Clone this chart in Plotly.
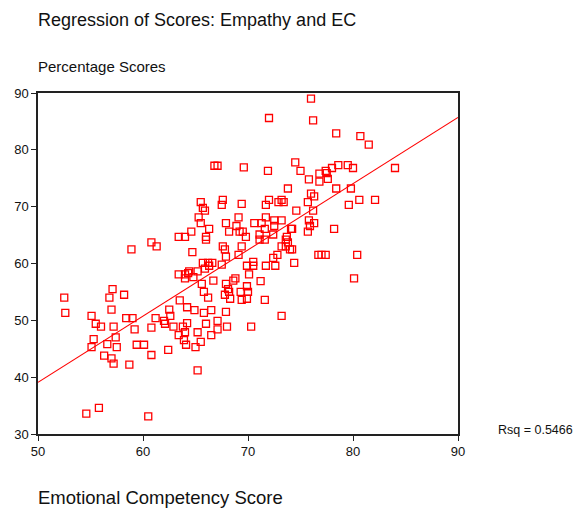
import plotly.graph_objects as go

# Emotional Competency score (x) and empathy percentage score (y) for each respondent
ec_score = [
    76.0, 72.0, 76.2, 78.4, 80.7, 81.5, 74.5, 66.8, 67.1, 69.6,
    71.9, 75.0, 75.8, 76.8, 77.4, 77.5, 78.0, 78.6, 79.5, 80.0,
    84.0, 76.8, 77.6, 73.8, 78.4, 79.8, 76.0, 76.3, 69.4, 71.7,
    72.0, 72.9, 73.2, 73.4, 75.7, 79.6, 80.6, 82.1, 74.6, 76.2,
    65.5, 67.6, 67.5, 65.7, 65.9, 65.3, 65.5, 67.9, 69.1, 70.6,
    71.3, 71.7, 72.5, 73.2, 72.5, 75.8, 76.3, 75.9, 66.3, 64.6,
    68.2, 68.9, 69.2, 69.5, 69.8, 63.4, 64.0, 66.0, 66.0, 60.8,
    61.3, 58.9, 67.6, 67.8, 69.4, 64.7, 67.9, 69.1, 71.6, 71.1,
    72.4, 71.1, 71.6, 74.1, 74.2, 75.7, 78.2, 73.7, 73.6, 73.8,
    73.2, 73.6, 74.0, 74.2, 72.4, 72.8, 76.7, 77.0, 77.4, 80.4,
    70.5, 70.5, 69.9, 71.7, 72.6, 74.4, 70.1, 71.2, 80.1, 69.9,
    69.3, 70.0, 69.4, 69.9, 71.6, 73.2, 70.3, 65.7, 66.2, 66.6,
    67.5, 66.3, 65.9, 63.4, 64.0, 64.3, 64.0, 64.4, 65.2, 64.8,
    66.7, 65.6, 67.9, 68.6, 68.8, 68.1, 68.2, 68.3, 67.8, 65.8,
    66.2, 63.5, 64.2, 64.9, 65.8, 66.5, 67.9, 62.5, 62.6, 61.2,
    62.0, 62.1, 62.9, 63.8, 64.2, 66.0, 67.1, 67.1, 68.0, 63.4,
    64.0, 65.2, 66.5, 63.9, 64.1, 65.0, 65.5, 62.4, 65.2, 60.8,
    60.1, 59.4, 59.2, 58.4, 59.0, 60.8, 58.2, 57.1, 56.8, 57.0,
    55.1, 55.5, 56.0, 57.2, 57.4, 55.3, 55.1, 56.6, 57.5, 56.3,
    57.0, 57.2, 58.7, 52.5, 52.6, 54.6, 55.8, 60.5,
]
empathy_pct = [
    89.0, 85.6, 85.2, 82.9, 82.4, 80.9, 77.8, 77.2, 77.2, 76.9,
    76.3, 76.3, 74.8, 75.8, 76.3, 75.9, 76.8, 77.3, 77.3, 76.8,
    76.8, 74.4, 74.9, 73.2, 73.2, 73.2, 72.3, 71.8, 70.5, 70.3,
    71.2, 70.8, 71.2, 70.8, 70.8, 70.3, 71.2, 71.2, 69.3, 69.3,
    70.8, 71.2, 70.3, 69.8, 69.3, 68.1, 67.1, 67.1, 68.1, 67.1,
    67.1, 68.1, 67.6, 67.6, 66.6, 67.6, 67.1, 66.6, 66.1, 65.6,
    65.6, 66.6, 65.6, 65.6, 64.7, 64.7, 64.7, 64.7, 64.2, 63.7,
    63.0, 62.5, 63.0, 62.5, 63.0, 62.0, 61.2, 61.5, 66.1, 65.1,
    65.1, 64.2, 64.2, 66.1, 66.1, 65.6, 66.1, 64.7, 64.2, 63.7,
    63.0, 63.0, 62.5, 62.5, 61.0, 61.5, 61.5, 61.5, 61.5, 61.5,
    60.3, 59.6, 59.6, 59.6, 59.6, 60.1, 58.1, 56.9, 57.4, 56.0,
    55.0, 55.0, 53.6, 53.8, 53.6, 50.8, 48.9, 60.1, 60.1, 60.1,
    59.8, 59.6, 59.1, 58.1, 58.1, 58.3, 57.4, 58.6, 58.6, 57.6,
    57.0, 56.4, 56.4, 57.0, 57.4, 55.5, 55.0, 53.8, 54.5, 55.0,
    54.0, 53.5, 52.3, 51.8, 51.3, 51.8, 51.5, 51.9, 50.8, 50.4,
    49.9, 49.4, 48.9, 48.9, 49.5, 49.4, 49.9, 48.4, 48.9, 47.4,
    47.9, 47.9, 47.4, 46.5, 45.7, 45.3, 46.2, 44.8, 41.2, 43.9,
    45.7, 45.7, 48.4, 50.4, 50.4, 48.7, 54.5, 55.5, 54.0, 51.9,
    50.8, 49.4, 48.9, 48.9, 47.0, 46.7, 45.3, 45.8, 45.3, 43.8,
    43.3, 42.4, 42.2, 54.0, 51.3, 33.6, 34.6, 33.1,
]

# Fitted linear regression of empathy on EC score
fit_intercept = -19.15
fit_slope = 1.165
rsq = 0.5466
fit_x = [50, 90]
fit_y = [fit_intercept + fit_slope * v for v in fit_x]

x_ticks = [50, 60, 70, 80, 90]
y_ticks = [30, 40, 50, 60, 70, 80, 90]

RED = "#ff0000"
FONT = "Liberation Sans, Arial, sans-serif"

fig = go.Figure()
fig.add_trace(go.Scatter(
    x=fit_x, y=fit_y, mode="lines",
    line=dict(color=RED, width=1.1),
    hoverinfo="skip", showlegend=False,
))
fig.add_trace(go.Scatter(
    x=ec_score, y=empathy_pct, mode="markers",
    marker=dict(symbol="square-open", size=7, color=RED, line=dict(width=1.3, color=RED)),
    showlegend=False,
))

axis_common = dict(
    showline=True, linecolor="#222222", linewidth=1.5, mirror=True,
    ticks="outside", ticklen=5, tickwidth=1, tickcolor="#222222",
    showgrid=False, zeroline=False,
    tickfont=dict(family=FONT, size=13, color="#111111"),
)

fig.update_layout(
    width=587, height=508,
    margin=dict(l=38, r=129, t=93, b=74),
    paper_bgcolor="white", plot_bgcolor="white",
    xaxis=dict(range=[50, 90], tickvals=x_ticks, **axis_common),
    yaxis=dict(range=[30, 90], tickvals=y_ticks, **axis_common),
    annotations=[
        dict(text="Regression of Scores: Empathy and EC", xref="paper", yref="paper",
             x=-0.004, y=1.213, xanchor="left", yanchor="middle", showarrow=False,
             font=dict(family=FONT, size=18, color="#111111")),
        dict(text="Percentage Scores", xref="paper", yref="paper",
             x=-0.004, y=1.078, xanchor="left", yanchor="middle", showarrow=False,
             font=dict(family=FONT, size=15, color="#111111")),
        dict(text="Emotional Competency Score", xref="paper", yref="paper",
             x=-0.004, y=-0.185, xanchor="left", yanchor="middle", showarrow=False,
             font=dict(family=FONT, size=18.5, color="#111111")),
        dict(text=f"Rsq = {rsq:.4f}", xref="paper", yref="paper",
             x=1.09, y=0.012, xanchor="left", yanchor="middle", showarrow=False,
             font=dict(family=FONT, size=12.5, color="#111111")),
    ],
)

fig.write_html("out.html")
